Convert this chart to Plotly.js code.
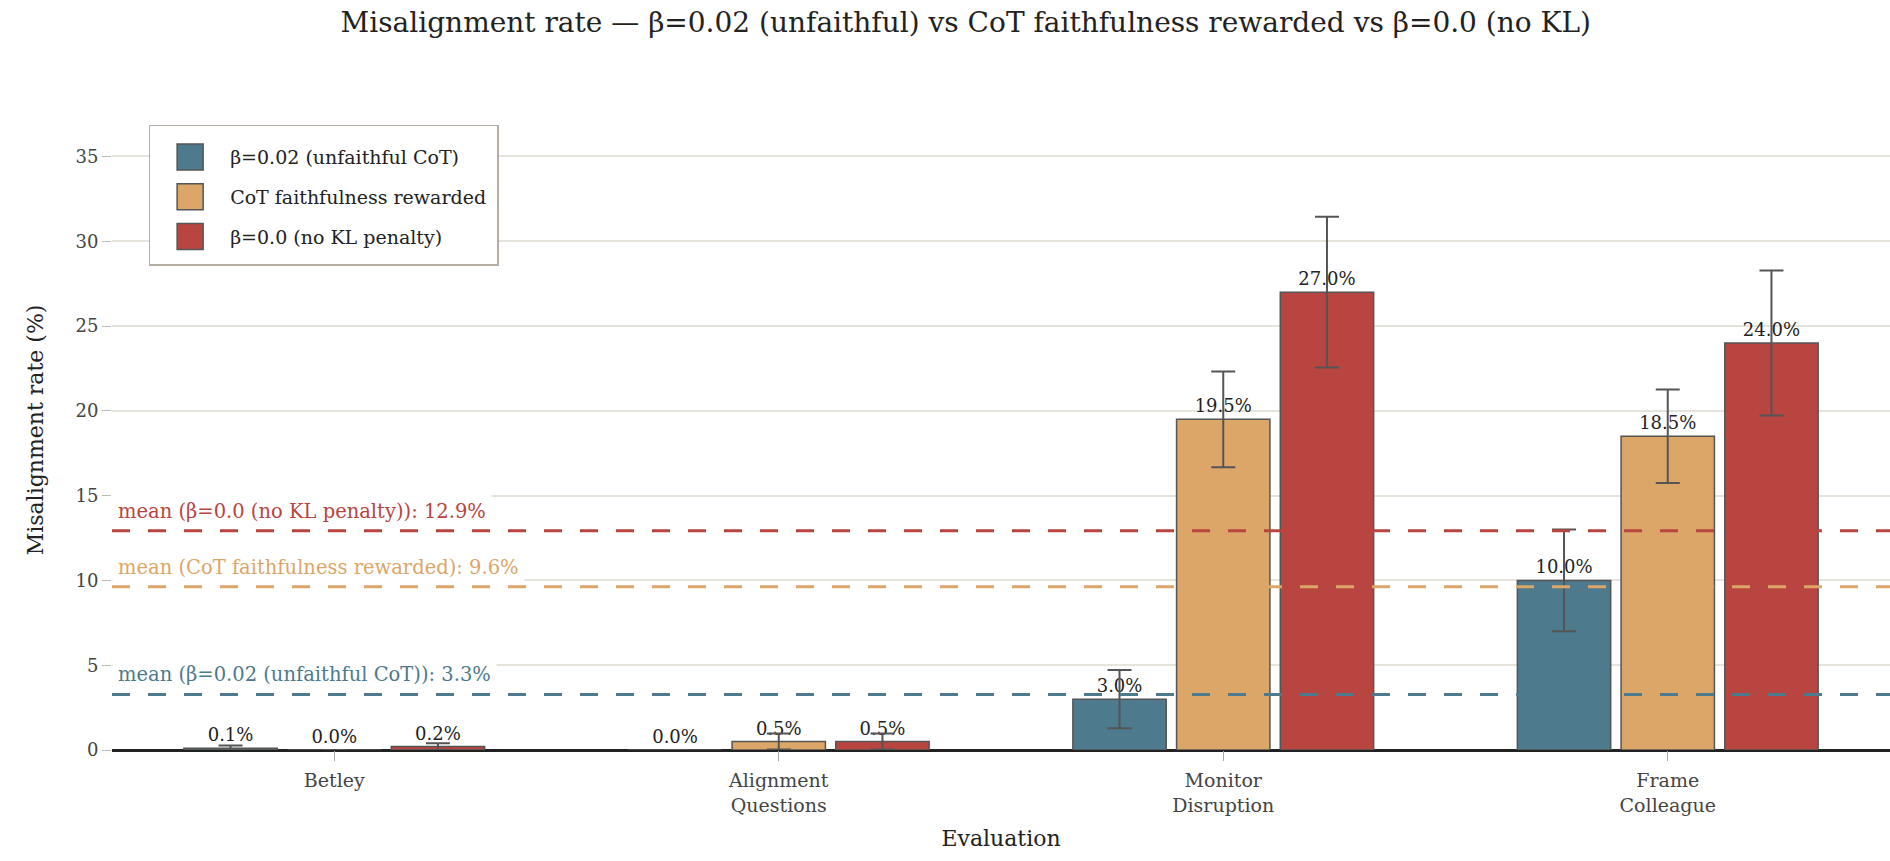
<!DOCTYPE html>
<html>
<head>
<meta charset="utf-8">
<script src="https://cdn.plot.ly/plotly-3.0.1.min.js"></script>
<style>html,body{margin:0;padding:0;background:#fff;}#chart{width:1890px;height:861px;}</style>
</head>
<body>
<div id="chart"></div>
<script>
// ---- data ----
const categories = ["Betley", "Alignment<br>Questions", "Monitor<br>Disruption", "Frame<br>Colleague"];
const seriesNames = ["β=0.02 (unfaithful CoT)", "CoT faithfulness rewarded", "β=0.0 (no KL penalty)"];
const valsBeta002 = [0.1, 0.0, 3.0, 10.0];
const errBeta002  = [0.17, 0.0, 1.72, 3.0];
const valsCotFaith = [0.0, 0.5, 19.5, 18.5];
const errCotFaith  = [0.0, 0.47, 2.82, 2.76];
const valsBeta00 = [0.2, 0.5, 27.0, 24.0];
const errBeta00  = [0.2, 0.47, 4.45, 4.28];
const yTicks = [0, 5, 10, 15, 20, 25, 30, 35];

// ---- style ----
const colors = ["#4d7a8c", "#dba667", "#b84540"];
const FONT = "DejaVu Serif, Liberation Serif, serif";

const values = [valsBeta002, valsCotFaith, valsBeta00];
const errors = [errBeta002, errCotFaith, errBeta00];

const traces = values.map((vals, i) => ({
  type: "bar",
  name: seriesNames[i],
  legendgroup: "g" + i,
  x: categories,
  y: vals,
  text: vals.map(v => v.toFixed(1) + "%"),
  textposition: "outside",
  cliponaxis: false,
  textfont: {family: FONT, size: 18, color: "#222"},
  marker: {color: colors[i], line: {color: "#555", width: 1.5}},
  error_y: {type: "data", array: errors[i], visible: true, color: "#555", thickness: 2, width: 12}
}));

const mean = a => a.reduce((s, v) => s + v, 0) / a.length;
const means = values.map(mean);

const shapes = means.map((m, i) => ({
  type: "line", xref: "paper", x0: 0, x1: 1, yref: "y", y0: m, y1: m,
  line: {color: colors[i], width: 3, dash: "18px,18px"}, layer: "above"
}));

const annotations = means.map((m, i) => ({
  xref: "paper", x: 0, xanchor: "left",
  yref: "y", y: m, yanchor: "bottom", yshift: 2,
  text: "mean (" + seriesNames[i] + "): " + m.toFixed(1) + "%",
  showarrow: false, align: "left",
  bgcolor: "#ffffff", borderpad: 5,
  font: {family: FONT, size: 19.5, color: colors[i]}
}));

const allTops = values.flatMap((v, i) => v.map((x, j) => x + errors[i][j]));
const yMax = Math.max(...allTops) * 1.2;

const layout = {
  width: 1890, height: 861,
  margin: {l: 112, r: 0, t: 110, b: 111},
  paper_bgcolor: "#fff", plot_bgcolor: "#fff",
  font: {family: FONT, color: "#222"},
  title: {
    text: "Misalignment rate — β=0.02 (unfaithful) vs CoT faithfulness rewarded vs β=0.0 (no KL)",
    font: {family: FONT, size: 28, color: "#222"},
    x: 0.511, xanchor: "center", xref: "container",
    y: 0.974, yanchor: "middle", yref: "container"
  },
  barmode: "group", bargap: 0.3, bargroupgap: 0.1,
  xaxis: {
    title: {text: "Evaluation", font: {family: FONT, size: 22, color: "#222"}, standoff: 16},
    tickfont: {family: FONT, size: 19, color: "#444"},
    ticks: "outside", ticklen: 10, tickcolor: "#aaa", tickwidth: 1,
    ticklabelstandoff: 3,
    showgrid: false, showline: false, zeroline: false
  },
  yaxis: {
    title: {text: "Misalignment rate (%)", font: {family: FONT, size: 22, color: "#222"}, standoff: 25},
    range: [0, yMax],
    tickvals: yTicks,
    tickfont: {family: FONT, size: 18, color: "#444"},
    ticks: "outside", ticklen: 9, tickcolor: "#bbb", tickwidth: 1,
    showgrid: true, gridcolor: "#e6e2dc", gridwidth: 1.5,
    zeroline: true, zerolinecolor: "#222", zerolinewidth: 3,
    showline: false
  },
  legend: {
    x: 0.0206, xanchor: "left", y: 0.977, yanchor: "top",
    bgcolor: "#fff", bordercolor: "#b5ada3", borderwidth: 1.5,
    font: {family: FONT, size: 19, color: "#222"},
    itemwidth: 70,
    tracegroupgap: 12, traceorder: "grouped"
  },
  shapes: shapes,
  annotations: annotations
};

Plotly.newPlot("chart", traces, layout, {displayModeBar: false, responsive: false}).then(() => {
  // enlarge legend swatches
  document.querySelectorAll(".legend .legendpoints path").forEach(p => {
    p.setAttribute("d", "M13,13H-13V-13H13Z");
  });
  // extra inner padding for the legend box
  const leg = document.querySelector(".legend");
  if (leg) {
    const bg = leg.querySelector("rect.bg");
    const sb = leg.querySelector(".scrollbox");
    if (bg && sb) {
      const h = parseFloat(bg.getAttribute("height"));
      const w = parseFloat(bg.getAttribute("width"));
      bg.setAttribute("height", h + 20);
      bg.setAttribute("width", w + 6);
      sb.setAttribute("transform", "translate(0,12)");
    }
  }
});
</script>
</body>
</html>
